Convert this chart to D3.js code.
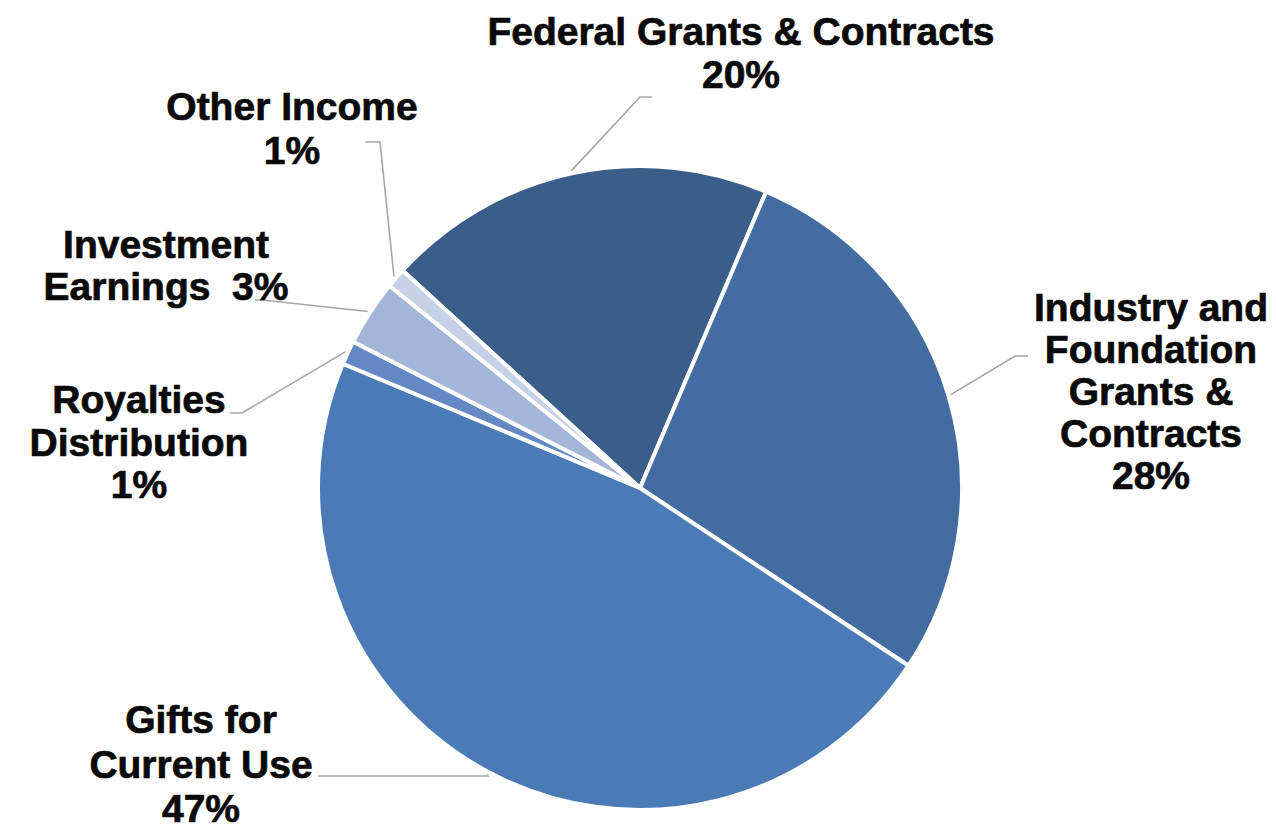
<!DOCTYPE html>
<html>
<head>
<meta charset="utf-8">
<script src="https://cdn.jsdelivr.net/npm/d3@7"></script>
<style>
  html, body { margin: 0; padding: 0; background: #fff; }
  svg { display: block; }
</style>
</head>
<body>
<svg id="chart" width="1276" height="832"></svg>
<script>
// ---- data ----
const categories = [
  "Federal Grants & Contracts",
  "Industry and Foundation Grants & Contracts",
  "Gifts for Current Use",
  "Royalties Distribution",
  "Investment Earnings",
  "Other Income"
];
const values = [19.6, 27.9, 47.0, 1.2, 3.3, 1.0];
const percentLabels = ["20%", "28%", "47%", "1%", "3%", "1%"];
const labelLines = [
  ["Federal Grants & Contracts", "20%"],
  ["Industry and", "Foundation", "Grants &", "Contracts", "28%"],
  ["Gifts for", "Current Use", "47%"],
  ["Royalties", "Distribution", "1%"],
  ["Investment", "Earnings\u00A0\u00A03%"],
  ["Other Income", "1%"]
];
const colors = ["#3a5d8a", "#436da1", "#4a7bb7", "#6488c3", "#a3b6d9", "#c6d1e8"];

// ---- layout ----
const W = 1276, H = 832;
const cx = 640, cy = 488, R = 322;
const startDeg = -47.5;

// label layout: center x, first baseline y, line step, leader elbow & end
const labelLayout = [
  { x: 741, y: 45, step: 43, elbow: [640, 97], end: [652, 97] },
  { x: 1151, y: 321, step: 42, elbow: [1015, 356], end: [1028, 356] },
  { x: 201, y: 733, step: 44.5, elbow: [488, 776], end: [318, 776] },
  { x: 139, y: 413, step: 42.5, elbow: [242, 413], end: [230, 413] },
  { x: 166, y: 258, step: 42, elbow: [262, 300], end: [255, 300] },
  { x: 292, y: 120, step: 44, elbow: [380, 142], end: [365, 142] }
];

const svg = d3.select("#chart");
const g = svg.append("g").attr("transform", `translate(${cx},${cy})`);

const pie = d3.pie()
  .sort(null)
  .value(d => d)
  .startAngle(startDeg * Math.PI / 180)
  .endAngle((startDeg + 360) * Math.PI / 180);

const arcs = pie(values);
const arc = d3.arc().innerRadius(0).outerRadius(R);
const leaderArc = d3.arc().innerRadius(R + 2.5).outerRadius(R + 2.5);

const color = d3.scaleOrdinal().domain(categories).range(colors);

g.selectAll("path.slice")
  .data(arcs)
  .join("path")
  .attr("class", "slice")
  .attr("d", arc)
  .attr("fill", (d, i) => color(categories[i]))
  .attr("stroke", "#fff")
  .attr("stroke-width", 4)
  .attr("stroke-linejoin", "round");

// leader lines
g.selectAll("polyline.leader")
  .data(arcs)
  .join("polyline")
  .attr("class", "leader")
  .attr("points", (d, i) => {
    const s = leaderArc.centroid(d);
    const L = labelLayout[i];
    return [s, [L.elbow[0] - cx, L.elbow[1] - cy], [L.end[0] - cx, L.end[1] - cy]]
      .map(p => p.join(",")).join(" ");
  })
  .attr("fill", "none")
  .attr("stroke", "#a6a6a6")
  .attr("stroke-width", 1.6);

// labels
const labels = svg.selectAll("text.label")
  .data(arcs)
  .join("text")
  .attr("class", "label")
  .attr("text-anchor", "middle")
  .attr("font-family", "'Liberation Sans', Arial, Helvetica, sans-serif")
  .attr("font-weight", "bold")
  .attr("font-size", 39)
  .attr("fill", "#0a0a0a")
  .attr("stroke", "#0a0a0a")
  .attr("stroke-width", 0.7);

labels.each(function(d, i) {
  const L = labelLayout[i];
  d3.select(this).selectAll("tspan")
    .data(labelLines[i])
    .join("tspan")
    .attr("x", L.x)
    .attr("y", (t, j) => L.y + j * L.step)
    .text(t => t);
});
</script>
</body>
</html>
